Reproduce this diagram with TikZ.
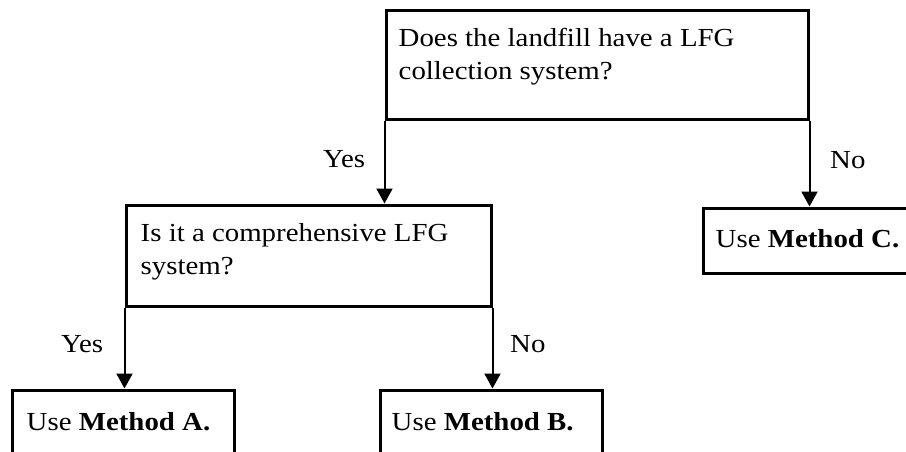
\documentclass[tikz,border=0pt]{standalone}
\usepackage{fontspec}
\setmainfont[FakeStretch=1.11]{Liberation Serif}
\usetikzlibrary{arrows.meta,calc}
\begin{document}
\begin{tikzpicture}[x=1pt,y=-1pt,
  box/.style={draw=black,line width=3pt,rectangle,inner sep=0pt},
  txt/.style={anchor=base west,inner sep=0pt,font=\fontsize{26}{33}\selectfont,align=left},
  arr/.style={line width=2pt,-{Triangle[width=16pt,length=15pt]}}]
\useasboundingbox (0,0) rectangle (906,451);
\clip (0,0) rectangle (906,451);
\fill[white] (0,0) rectangle (906,451);
% boxes
\node[box,minimum width=422pt,minimum height=109pt] (q1) at (597,64.5) {};
\node[box,minimum width=365pt,minimum height=101pt] (q2) at (308.5,255.5) {};
\node[box,minimum width=222pt,minimum height=65pt] (mC) at (814,240.5) {};
\node[box,minimum width=222pt,minimum height=70pt] (mA) at (123,425) {};
\node[box,minimum width=222pt,minimum height=70pt] (mB) at (491,425) {};
% texts (anchor = baseline of the last line)
\node[txt] (t1) at ($(q1.north west)+(14,71)$) {Does the landfill have a LFG\\collection system?};
\node[txt] (t2) at ($(q2.north west)+(16,71)$) {Is it a comprehensive LFG\\system?};
\node[txt] (tC) at ($(mC.north west)+(14,41)$) {Use \textbf{Method C.}};
\node[txt] (tA) at ($(mA.north west)+(16,42)$) {Use \textbf{Method A.}};
\node[txt] (tB) at ($(mB.north west)+(13,42)$) {Use \textbf{Method B.}};
% connectors
\draw[arr] (q1.south west) -- (q1.south west |- q2.north);
\draw[arr] (q1.south east) -- (q1.south east |- mC.north);
\draw[arr] (q2.south west) -- (q2.south west |- mA.north);
\draw[arr] (q2.south east) -- (q2.south east |- mB.north);
% labels
\node[txt] (y1) at (323,167) {Yes};
\node[txt] (n1) at (830,168) {No};
\node[txt] (y2) at (61,352) {Yes};
\node[txt] (n2) at (510,352) {No};
\end{tikzpicture}
\end{document}
